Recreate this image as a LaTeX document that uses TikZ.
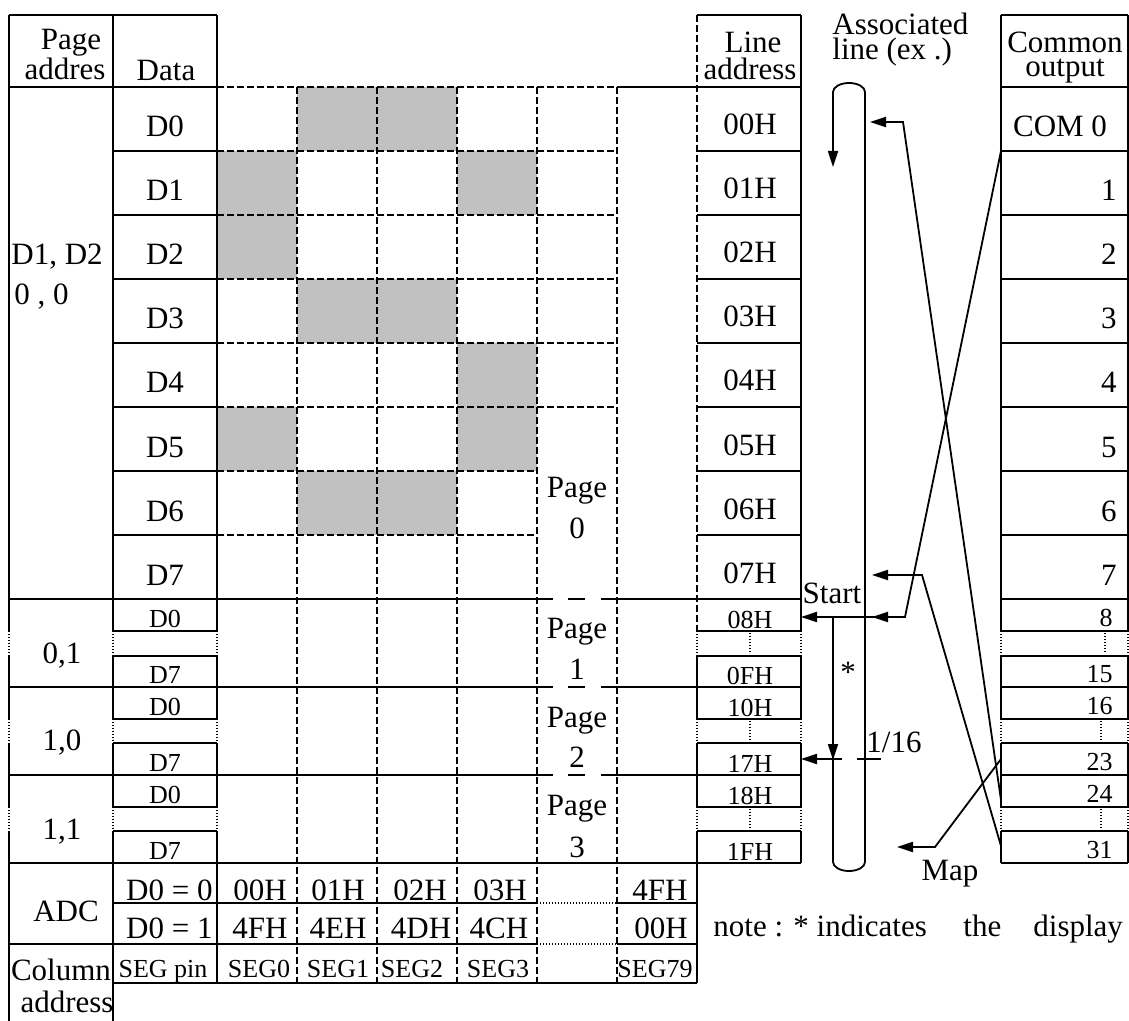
\documentclass[tikz,border=0pt]{standalone}
\usepackage{fontspec}
\setmainfont{Liberation Serif}
\usetikzlibrary{arrows.meta}
\definecolor{cellgray}{HTML}{C0C0C0}
\begin{document}
\begin{tikzpicture}[x=0.5pt,y=-0.5pt,
  frame/.style={line width=1pt},
  gridln/.style={line width=0.8pt, dash pattern=on 3.5pt off 1.5pt},
  dots/.style={line width=0.6pt, dash pattern=on 0.5pt off 1pt},
  conn/.style={line width=0.9pt},
  tip/.style={-{Triangle[length=8pt,width=5pt]}},
  big/.style={inner sep=0pt, anchor=base, font=\fontsize{15.5}{16}\selectfont},
  small/.style={inner sep=0pt, anchor=base, font=\fontsize{13}{14}\selectfont},
  seg/.style={inner sep=0pt, anchor=base, font=\fontsize{13}{14}\selectfont},
  head/.style={inner sep=0pt, anchor=base, align=center}
]
\useasboundingbox (0,0) rectangle (1129,1021);

% shaded cells
\foreach \c/\r in {1/0,2/0,0/1,3/1,0/2,1/3,2/3,3/4,0/5,3/5,1/6,2/6}
  \fill[cellgray] ({217+80*\c},{87+64*\r}) rectangle ++(80,64);

% dashed grid
\foreach \y in {87,151,215,279,343,407}
  \draw[gridln] (217,\y) -- (617,\y);
\foreach \y in {471,535}
  \draw[gridln] (217,\y) -- (537,\y);
\foreach \x in {297,377,457,537,617}
  \draw[gridln] (\x,87) -- (\x,983);
\draw[gridln] (697,15) -- (697,631);

% horizontal frame lines
\draw[frame] (9,15) -- (217,15);
\draw[frame] (697,15) -- (801,15);
\draw[frame] (1001,15) -- (1128,15);
\draw[frame] (9,87) -- (217,87);
\draw[frame] (617,87) -- (801,87);
\draw[frame] (1001,87) -- (1128,87);
\foreach \y in {151,215,279,343,407,471,535} {
  \draw[frame] (113,\y) -- (217,\y);
  \draw[frame] (697,\y) -- (801,\y);
  \draw[frame] (1001,\y) -- (1128,\y);
}
\foreach \y in {599,687,775} {
  \draw[frame] (9,\y) -- (553,\y);
  \draw[frame] (568,\y) -- (585,\y);
  \draw[frame] (601,\y) -- (801,\y);
  \draw[frame] (1001,\y) -- (1128,\y);
}
\draw[frame] (9,863) -- (801,863);
\draw[frame] (1001,863) -- (1128,863);
\foreach \y in {631,656,719,743,807,831} {
  \draw[frame] (113,\y) -- (217,\y);
  \draw[frame] (697,\y) -- (801,\y);
  \draw[frame] (1001,\y) -- (1128,\y);
}

% vertical frame lines with dotted gaps
\foreach \x/\e in {9/1021,113/1021,217/983,801/863,1001/863,1128/863} {
  \draw[frame] (\x,15) -- (\x,631);
  \draw[frame] (\x,656) -- (\x,719);
  \draw[frame] (\x,743) -- (\x,807);
  \draw[frame] (\x,831) -- (\x,\e);
  \draw[dots] (\x,631) -- (\x,656);
  \draw[dots] (\x,719) -- (\x,743);
  \draw[dots] (\x,807) -- (\x,831);
}
\draw[frame] (697,656) -- (697,719);
\draw[frame] (697,743) -- (697,807);
\draw[frame] (697,831) -- (697,983);
\draw[dots] (697,631) -- (697,656);
\draw[dots] (697,719) -- (697,743);
\draw[dots] (697,807) -- (697,831);
\draw[dots] (750,633) -- (750,654);
\draw[dots] (750,721) -- (750,741);
\draw[dots] (750,809) -- (750,829);
\draw[dots] (1105,633) -- (1105,654);
\draw[dots] (1101,721) -- (1101,741);
\draw[dots] (1101,809) -- (1101,829);

% bottom table lines
\draw[frame] (113,903) -- (537,903);
\draw[dots] (537,903) -- (617,903);
\draw[frame] (617,903) -- (697,903);
\draw[frame] (9,944) -- (537,944);
\draw[dots] (537,944) -- (617,944);
\draw[frame] (617,944) -- (697,944);
\draw[frame] (113,983) -- (697,983);

% header texts (anchor = baseline of last line)
\node[head, font=\fontsize{15.5}{14}\selectfont] (hPage) at (65,80) {\hspace*{6pt}Page\\addres};
\node[big] (hData) at (166,81) {Data};
\node[head, font=\fontsize{15.5}{13.5}\selectfont] (hLine) at (750,80) {\hspace*{3pt}Line\\address};
\node[head, align=left, anchor=base west, font=\fontsize{15.5}{12.5}\selectfont] (hAssoc) at (832,60) {Associated\\line (ex .)};
\node[head, font=\fontsize{15.5}{12}\selectfont] (hCommon) at (1065,77) {Common\\output};

% page 0 rows
\foreach \i in {0,...,7} {
  \node[big] (d\i) at (165,{137+64*\i}) {D\i};
  \node[big] (la\i) at (750,{135+64*\i}) {0\i H};
}
\node[big] (com0) at (1060,137) {COM 0};
\foreach \i in {1,...,7}
  \node[big,anchor=base east] (com\i) at (1117,{137+64*\i}) {\i};
\node[big,anchor=base west] (pa0a) at (11,265) {D1, D2};
\node[big,anchor=base west] (pa0b) at (14,305) {0 , 0};

% page labels
\node[big] (pg0) at (577,497) {Page};
\node[big] (pg0n) at (577,538) {0};
\node[big] (pg1) at (577,638) {Page};
\node[big] (pg1n) at (577,679) {1};
\node[big] (pg2) at (577,727) {Page};
\node[big] (pg2n) at (577,767) {2};
\node[big] (pg3) at (577,815) {Page};
\node[big] (pg3n) at (577,857) {3};

% pages 1-3
\node[big] (pa1) at (62,663) {0,1};
\node[big] (pa2) at (62,750) {1,0};
\node[big] (pa3) at (62,839) {1,1};
\foreach \n/\t/\b/\l/\c in {a/D0/627/08H/8, b/D7/683/0FH/15, c/D0/715/10H/16, e/D7/771/17H/23, f/D0/803/18H/24, g/D7/859/1FH/31} {
  \node[small] (sd\n) at (165,\b) {\t};
  \node[small] (sl\n) at (750,{\b+1}) {\l};
  \node[small,anchor=base east] (sc\n) at (1113,{\b-1}) {\c};
}

% ADC / column address
\node[big] (adc) at (66,921) {ADC};
\node[big,anchor=base east] (adc0) at (213,900) {D0 = 0};
\node[big,anchor=base east] (adc1) at (213,938) {D0 = 1};
\node[big] (r1a) at (260,900) {00H};
\node[big] (r1b) at (338,900) {01H};
\node[big] (r1c) at (420,900) {02H};
\node[big] (r1d) at (500,900) {03H};
\node[big] (r1f) at (660,900) {4FH};
\node[big] (r2a) at (260,938) {4FH};
\node[big] (r2b) at (338,938) {4EH};
\node[big] (r2c) at (421,938) {4DH};
\node[big] (r2d) at (499,938) {4CH};
\node[big] (r2f) at (661,938) {00H};
\node[seg] (s0) at (163,977) {SEG pin};
\node[seg] (s1) at (259,977) {SEG0};
\node[seg] (s2) at (338,977) {SEG1};
\node[seg] (s3) at (412,977) {SEG2};
\node[seg] (s4) at (498,977) {SEG3};
\node[seg] (s5) at (655,977) {SEG79};
\node[head, font=\fontsize{15.5}{16}\selectfont] (colA) at (61,1012) {Column\\\hspace*{6pt}address};

% note
\node[big,anchor=base west] (noteA) at (713,936) {note : * indicates};
\node[big,anchor=base west] (noteB) at (963,936) {the};
\node[big,anchor=base west] (noteC) at (1033,936) {display};

% labels near the scan line
\node[big] (start) at (832,603) {Start};
\node[big,anchor=center] (star) at (848,672) {*};
\node[big] (frac) at (894,752) {1/16};
\node[big] (map) at (950,880) {Map};

% coordinates for connectors
\coordinate (capA) at (833,617);
\coordinate (capB) at (833,862);
\coordinate (capC) at (865,92);
\coordinate (capD) at (833,167);
\coordinate (capE) at (833,760);
\coordinate (c1) at (1001,151);
\coordinate (k1) at (905,617);
\coordinate (la8) at (801,617);
\coordinate (h1) at (872,617);
\coordinate (h17a) at (842,759);
\coordinate (la17) at (801,759);
\coordinate (tk1) at (857,759);
\coordinate (tk2) at (881,759);
\coordinate (c24) at (1001,800);
\coordinate (kA) at (903,122);
\coordinate (hA) at (870,122);
\coordinate (c31) at (1001,846);
\coordinate (kB) at (922,575);
\coordinate (hB) at (872,575);
\coordinate (c23) at (1001,759);
\coordinate (kM) at (935,847);
\coordinate (hM) at (897,847);

% scan capsule
\draw[conn,tip] (capA) -- (capB)
  arc[start angle=180,end angle=360,x radius=8pt,y radius=4.5pt]
  -- (capC)
  arc[start angle=0,end angle=180,x radius=8pt,y radius=4.5pt]
  -- (capD);
\draw[conn,tip] (capA) -- (capE);

% connectors
\draw[conn,tip] (c1) -- (k1) -- (la8);
\draw[conn,tip] (k1) -- (h1);
\draw[conn,tip] (h17a) -- (la17);
\draw[conn] (tk1) -- (tk2);
\draw[conn,tip] (c24) -- (kA) -- (hA);
\draw[conn,tip] (c31) -- (kB) -- (hB);
\draw[conn,tip] (c23) -- (kM) -- (hM);
\end{tikzpicture}
\end{document}
